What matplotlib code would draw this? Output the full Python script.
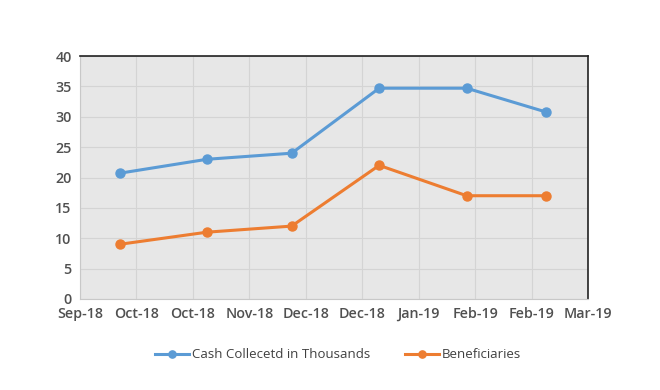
import matplotlib
matplotlib.use("Agg")
import matplotlib.pyplot as plt
import matplotlib.dates as mdates
import numpy as np
import datetime as dt

dates = [dt.date(2018, 10, 1), dt.date(2018, 11, 1), dt.date(2018, 12, 1),
         dt.date(2019, 1, 1), dt.date(2019, 2, 1), dt.date(2019, 3, 1)]
cash = [20.7, 23.0, 24.0, 34.7, 34.7, 30.8]
beneficiaries = [9, 11, 12, 22, 17, 17]
series_names = ["Cash Collecetd in Thousands", "Beneficiaries"]

x_start = dt.date(2018, 9, 17)
x_step_days = 20
n_ticks = 10

plt.rcParams['font.family'] = ['Open Sans', 'DejaVu Sans']

fig = plt.figure(figsize=(6.6, 3.9), dpi=100)
ax = fig.add_axes([80/660, 91/390, 508/660, 243/390])
ax.set_facecolor('#e7e7e7')

xd = mdates.date2num(dates)
ax.plot(xd, cash, color='#5b9bd5', lw=2.2, marker='o', ms=6.5, label=series_names[0], zorder=3)
ax.plot(xd, beneficiaries, color='#ed7d31', lw=2.2, marker='o', ms=6.5, label=series_names[1], zorder=3)

ticks = [mdates.date2num(x_start + dt.timedelta(days=x_step_days * i)) for i in range(n_ticks)]
ax.set_xticks(ticks)
ax.xaxis.set_major_formatter(mdates.DateFormatter('%b-%y'))
ax.set_xlim(ticks[0], ticks[-1])
ax.set_ylim(0, 40)
ax.set_yticks(np.arange(0, 41, 5))
ax.grid(True, color='#d4d4d4', lw=0.8, zorder=0)
ax.set_axisbelow(True)
ax.tick_params(length=0, labelsize=10.3, labelcolor='#505050', pad=6)
for lbl in ax.get_xticklabels() + ax.get_yticklabels():
    lbl.set_fontweight('semibold')
ax.spines['top'].set_color('#222222')
ax.spines['right'].set_color('#222222')
ax.spines['top'].set_linewidth(1.2)
ax.spines['right'].set_linewidth(1.2)
ax.spines['left'].set_color('#c8c8c8')
ax.spines['bottom'].set_color('#c8c8c8')

leg = fig.legend(loc='center', bbox_to_anchor=(0.512, 0.09), ncol=2, frameon=False,
                 fontsize=9.5, handlelength=2.6, handletextpad=0.2, columnspacing=2.6,
                 markerscale=0.8)
for t in leg.get_texts():
    t.set_color('#404040')

fig.savefig('out.png', dpi=100)
